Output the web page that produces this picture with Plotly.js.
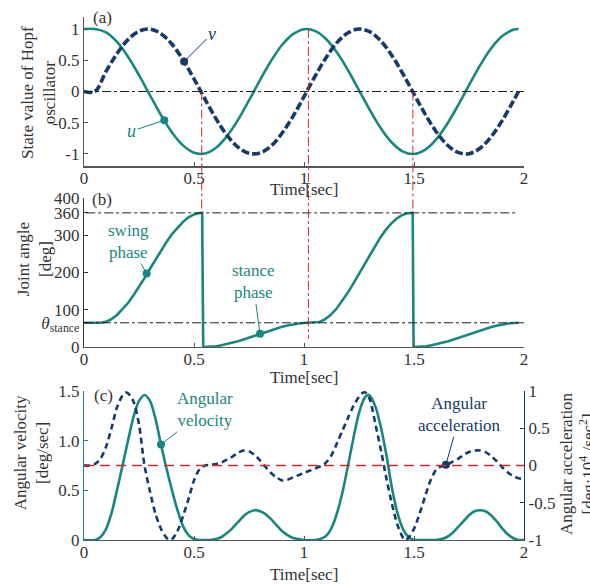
<!DOCTYPE html>
<html>
<head>
<meta charset="utf-8">
<script src="https://cdn.plot.ly/plotly-3.0.1.min.js"></script>
<style>
  html, body { margin: 0; padding: 0; background: #fff; }
  #chart { width: 590px; height: 584px; }
</style>
</head>
<body>
<div id="chart"></div>
<script>
// ---- (a) Hopf oscillator states ----
const tOsc = [0, 0.05, 0.1, 0.15, 0.2, 0.25, 0.3, 0.35, 0.4, 0.45, 0.5, 0.55, 0.6, 0.65, 0.7, 0.75, 0.8, 0.85, 0.9, 0.95, 1.0,
  1.05, 1.1, 1.15, 1.2, 1.25, 1.3, 1.35, 1.4, 1.45, 1.5, 1.55, 1.6, 1.65, 1.7, 1.75, 1.8, 1.85, 1.9, 1.95, 1.975];
const uState = [1, 1, 0.947, 0.794, 0.557, 0.262, -0.061, -0.378, -0.655, -0.862, -0.980, -0.993, -0.901, -0.714, -0.453, -0.142,
  0.183, 0.488, 0.744, 0.918, 0.997, 0.970, 0.841, 0.623, 0.340, 0.020, -0.301, -0.591, -0.820, -0.961, -0.999,
  -0.933, -0.769, -0.523, -0.222, 0.102, 0.416, 0.687, 0.883, 0.987, 1.0];
const vState = [0, 0, 0.321, 0.607, 0.830, 0.965, 0.998, 0.926, 0.756, 0.507, 0.203, -0.122, -0.434, -0.700, -0.891, -0.990,
  -0.983, -0.873, -0.668, -0.397, -0.081, 0.243, 0.540, 0.782, 0.940, 1.000, 0.954, 0.806, 0.574, 0.280, -0.041,
  -0.359, -0.639, -0.852, -0.975, -0.995, -0.909, -0.727, -0.470, -0.162, 0];
const uMark = { t: 0.365, val: -0.46 };
const vMark = { t: 0.455, val: 0.48 };

// ---- (b) joint angle ----
const tJoint = [0, 0.05, 0.075, 0.1, 0.125, 0.15, 0.175, 0.2, 0.225, 0.25, 0.275, 0.3, 0.325, 0.35, 0.375, 0.4, 0.425, 0.45,
  0.475, 0.5, 0.525, 0.537, 0.542, 0.575, 0.6, 0.625, 0.65, 0.675, 0.7, 0.725, 0.75, 0.775, 0.8, 0.825, 0.85, 0.875,
  0.9, 0.925, 0.95, 0.975, 1.0, 1.025, 1.045, 1.07, 1.095, 1.12, 1.145, 1.17, 1.195, 1.22, 1.245, 1.27, 1.295, 1.32, 1.345,
  1.37, 1.395, 1.42, 1.445, 1.47, 1.488, 1.494, 1.498, 1.53, 1.555, 1.58, 1.605, 1.63, 1.655, 1.68, 1.705, 1.73, 1.755,
  1.78, 1.805, 1.83, 1.855, 1.88, 1.905, 1.93, 1.955, 1.975];
const jointAngle = [65, 65, 65, 68, 75, 86, 101, 118, 139, 161, 185, 210, 235, 259, 282, 303, 321, 336,
  348, 356, 359.7, 360, 0, 0.7, 2.2, 4.5, 7.5, 11.2, 15.4, 20.1, 25.0, 30.2, 35.4, 40.6, 45.5, 50.1,
  54.3, 57.8, 60.8, 63.0, 64.4, 65, 65, 67.3, 74.3, 85.6, 101, 120, 142, 166, 191.5, 217.8, 243.9, 268.9, 292.2,
  313, 330.6, 344.2, 354, 359.2, 360, 360, 0, 0.7, 2.2, 4.5, 7.5, 11.2, 15.4, 20.1, 25.0,
  30.2, 35.4, 40.6, 45.5, 50.1, 54.3, 57.8, 60.8, 63.0, 64.4, 65];
const thetaStance = 65;
const swingMark = { t: 0.285, val: 197 };
const stanceMark = { t: 0.8, val: 35.4 };

// ---- (c) angular velocity and acceleration ----
const tVel = [0, 0.05, 0.075, 0.1, 0.125, 0.15, 0.175, 0.2, 0.225, 0.25, 0.275, 0.3, 0.325, 0.35, 0.375, 0.4, 0.425, 0.45,
  0.475, 0.5, 0.525, 0.55, 0.575, 0.6, 0.625, 0.65, 0.675, 0.7, 0.725, 0.75, 0.775, 0.8, 0.825, 0.85, 0.875, 0.9, 0.925,
  0.95, 0.975, 1.0, 1.05, 1.075, 1.1, 1.125, 1.15, 1.175, 1.2, 1.225, 1.25, 1.275, 1.29, 1.3, 1.325, 1.35, 1.375, 1.4,
  1.425, 1.45, 1.475, 1.5, 1.525, 1.6, 1.625, 1.65, 1.675, 1.7, 1.725, 1.75, 1.775, 1.8, 1.825, 1.85, 1.875, 1.9, 1.925,
  1.95, 1.975, 2.0];
const angVel = [0, 0, 0.03, 0.11, 0.27, 0.5, 0.75, 1.0, 1.24, 1.4, 1.46, 1.4, 1.22, 0.96, 0.72, 0.5, 0.3, 0.14,
  0.05, 0.01, 0, 0, 0, 0.01, 0.03, 0.07, 0.12, 0.18, 0.24, 0.28, 0.3, 0.29, 0.26, 0.21, 0.15, 0.09, 0.05,
  0.02, 0.01, 0, 0, 0.01, 0.04, 0.12, 0.27, 0.48, 0.75, 1.03, 1.28, 1.43, 1.46, 1.45, 1.34, 1.13, 0.85, 0.52,
  0.27, 0.11, 0.03, 0, 0, 0, 0.01, 0.03, 0.07, 0.13, 0.19, 0.25, 0.29, 0.3, 0.29, 0.25, 0.19, 0.12, 0.06,
  0.02, 0, 0];
const tAcc = [0, 0.025, 0.05, 0.075, 0.1, 0.125, 0.15, 0.175, 0.19, 0.2, 0.225, 0.25, 0.275, 0.3, 0.325, 0.35, 0.375, 0.39,
  0.4, 0.425, 0.45, 0.475, 0.5, 0.525, 0.55, 0.575, 0.6, 0.625, 0.65, 0.675, 0.7, 0.725, 0.75, 0.775, 0.8, 0.825,
  0.85, 0.875, 0.9, 0.925, 0.95, 0.975, 1.0, 1.025, 1.05, 1.075, 1.09, 1.1, 1.125, 1.15, 1.175, 1.2, 1.225, 1.25,
  1.27, 1.285, 1.3, 1.325, 1.35, 1.375, 1.4, 1.425, 1.45, 1.46, 1.475, 1.5, 1.525, 1.55, 1.575, 1.6, 1.625, 1.65,
  1.675, 1.7, 1.725, 1.75, 1.775, 1.8, 1.825, 1.85, 1.875, 1.9, 1.925, 1.95, 1.975, 2.0];
const angAcc = [0, 0, 0.02, 0.09, 0.25, 0.5, 0.78, 0.94, 0.98, 0.97, 0.86, 0.55, 0, -0.35, -0.65, -0.85, -0.97, -1.0,
  -0.99, -0.88, -0.68, -0.45, -0.2, -0.05, 0, 0.01, 0.02, 0.04, 0.08, 0.12, 0.17, 0.2, 0.19, 0.14, 0.07, -0.02,
  -0.1, -0.16, -0.2, -0.19, -0.16, -0.13, -0.1, -0.07, -0.04, -0.01, 0.01, 0.04, 0.14, 0.3, 0.47, 0.64, 0.8, 0.92,
  0.98, 0.97, 0.88, 0.55, 0.2, -0.18, -0.52, -0.8, -0.97, -1.0, -0.97, -0.85, -0.65, -0.42, -0.2, -0.06, -0.01, 0.01,
  0.05, 0.09, 0.14, 0.18, 0.2, 0.2, 0.18, 0.13, 0.06, -0.02, -0.09, -0.14, -0.17, -0.18];
const velMark = { t: 0.35, val: 0.96 };
const accMark = { t: 1.645, val: 0.01 };

// gait phase boundaries (sec)
const phaseLines = [
  { t: 0.535, fromA: 0, toB: 360 },
  { t: 1.02, fromA: 1, toB: 22 },
  { t: 1.495, fromA: 0, toB: 360 }
];

const xTicks = [0, 0.5, 1, 1.5, 2];
const xTickText = ['0', '0.5', '1', '1.5', '2'];
const aTicks = [-1, -0.5, 0, 0.5, 1];
const aTickText = ['-1', '-0.5', '0', '0.5', '1'];
const bTicks = [0, thetaStance, 100, 200, 300, 360, 400];
const bTickText = ['0', '<i>θ</i><sub>stance</sub>', '100', '200', '300', '360', '400'];
const cLeftTicks = [0, 0.5, 1, 1.5];
const cLeftText = ['0', '0.5', '1.0', '1.5'];
const cRightTicks = [-1, -0.5, 0, 0.5, 1];
const cRightText = ['-1', '-0.5', '0', '0.5', '1'];

// ---- styling ----
const TEAL = '#17877f';
const NAVY = '#153a6b';
const RED = '#d8262b';
const AXIS = '#555555';
const TXT = '#333333';
const SERIF = '"Liberation Serif", "Times New Roman", Times, serif';

const domA = [0.7128, 0.999], rangeA = [-1.2, 1.2];
const domB = [0.3683, 0.6527], rangeB = [0, 400];
const domC = [0, 0.2844];

function toPaper(dom, rng, v) {
  return dom[0] + (v - rng[0]) / (rng[1] - rng[0]) * (dom[1] - dom[0]);
}

const traces = [
  { x: tOsc, y: uState, xaxis: 'x', yaxis: 'y', mode: 'lines',
    line: { color: TEAL, width: 2.6, shape: 'spline', smoothing: 1 } },
  { x: tOsc, y: vState, xaxis: 'x', yaxis: 'y', mode: 'lines',
    line: { color: NAVY, width: 3.6, dash: '8px,3px', shape: 'spline', smoothing: 1 } },
  { x: [uMark.t], y: [uMark.val], xaxis: 'x', yaxis: 'y', mode: 'markers', marker: { color: TEAL, size: 8 } },
  { x: [vMark.t], y: [vMark.val], xaxis: 'x', yaxis: 'y', mode: 'markers', marker: { color: NAVY, size: 8 } },

  { x: tJoint, y: jointAngle, xaxis: 'x2', yaxis: 'y2', mode: 'lines',
    line: { color: TEAL, width: 2.6 } },
  { x: [swingMark.t, stanceMark.t], y: [swingMark.val, stanceMark.val], xaxis: 'x2', yaxis: 'y2',
    mode: 'markers', marker: { color: TEAL, size: 8 } },

  { x: tVel, y: angVel, xaxis: 'x3', yaxis: 'y3', mode: 'lines',
    line: { color: TEAL, width: 2.6, shape: 'spline', smoothing: 0.8 } },
  { x: tAcc, y: angAcc, xaxis: 'x3', yaxis: 'y4', mode: 'lines',
    line: { color: NAVY, width: 2.6, dash: '6px,4px', shape: 'spline', smoothing: 0.8 } },
  { x: [velMark.t], y: [velMark.val], xaxis: 'x3', yaxis: 'y3', mode: 'markers', marker: { color: TEAL, size: 8 } },
  { x: [accMark.t], y: [accMark.val], xaxis: 'x3', yaxis: 'y4', mode: 'markers', marker: { color: NAVY, size: 8 } }
];

const tickFont = { family: SERIF, size: 17, color: TXT };

function xAxis(anchor) {
  return {
    anchor: anchor, domain: [0, 1], range: [0, 2],
    tickvals: xTicks, ticktext: xTickText, ticks: 'inside', ticklen: 4, tickcolor: AXIS,
    showline: true, linecolor: AXIS, linewidth: 1.2, ticklabelstandoff: -4,
    showgrid: false, zeroline: false, tickfont: tickFont
  };
}

function yAxis(dom, rng, vals, text, color) {
  return {
    domain: dom, range: rng, anchor: 'x',
    tickvals: vals, ticktext: text, ticks: 'inside', ticklen: 4, tickcolor: color || AXIS,
    showline: true, linecolor: color || AXIS, linewidth: 1.2,
    showgrid: false, zeroline: false, tickfont: tickFont
  };
}

const yA = yAxis(domA, rangeA, aTicks, aTickText);
const yB = yAxis(domB, rangeB, bTicks, bTickText, '#333333'); yB.anchor = 'x2';
const yC = yAxis(domC, [0, 1.5], cLeftTicks, cLeftText, TEAL); yC.anchor = 'x3';
const yD = yAxis(domC, [-1, 1], cRightTicks, cRightText, NAVY);
yD.anchor = 'x3'; yD.overlaying = 'y3'; yD.side = 'right';

const dashDot = { color: '#222222', width: 1, dash: 'dashdot' };
const shapes = [
  { type: 'line', xref: 'x', yref: 'y', x0: 0, x1: 2, y0: 0, y1: 0, line: dashDot },
  { type: 'line', xref: 'x2', yref: 'y2', x0: 0.01, x1: 1.97, y0: 360, y1: 360, line: dashDot },
  { type: 'line', xref: 'x2', yref: 'y2', x0: 0, x1: 2, y0: thetaStance, y1: thetaStance, line: dashDot },
  { type: 'line', xref: 'x3', yref: 'y4', x0: 0, x1: 2, y0: 0, y1: 0,
    line: { color: RED, width: 1.5, dash: '10px,6px' } }
];
phaseLines.forEach(p => {
  shapes.push({ type: 'line', xref: 'x', yref: 'paper', x0: p.t, x1: p.t,
    y0: toPaper(domA, rangeA, p.fromA), y1: toPaper(domB, rangeB, p.toB),
    line: { color: RED, width: 1, dash: 'dashdot' } });
});

const labFont = { family: SERIF, size: 17, color: TXT };
function freeText(x, y, text, angle) {
  return { xref: 'paper', yref: 'paper', x: x, y: y, text: text, textangle: angle || 0,
    xanchor: 'center', yanchor: 'middle', showarrow: false, font: labFont };
}
function pointer(xr, yr, mark, ax, ay, text, color, size) {
  return { xref: xr, yref: yr, x: mark.t, y: mark.val, ax: ax, ay: ay, text: text,
    xanchor: 'center', yanchor: 'middle',
    showarrow: true, arrowhead: 0, arrowwidth: 1, arrowcolor: color, standoff: 0,
    font: { family: SERIF, size: size || 17, color: color } };
}

const annotations = [
  { xref: 'x', yref: 'y', x: 0.086, y: 1.19, text: '(a)', showarrow: false, font: labFont, xanchor: 'center', yanchor: 'middle' },
  { xref: 'x2', yref: 'y2', x: 0.082, y: 395, text: '(b)', showarrow: false, font: labFont, xanchor: 'center', yanchor: 'middle' },
  { xref: 'x3', yref: 'y3', x: 0.09, y: 1.45, text: '(c)', showarrow: false, font: labFont, xanchor: 'center', yanchor: 'middle' },

  freeText(-0.1023, 0.855, 'State value of Hopf<br>oscillator', -90),
  freeText(-0.1125, 0.535, 'Joint angle<br>[deg]', -90),
  freeText(-0.12, 0.166, 'Angular velocity<br>[deg/sec]', -90),
  freeText(1.1227, 0.147, 'Angular acceleration<br>[deg·10<sup>4</sup> /sec<sup>2</sup>]', -90),

  freeText(0.5, 0.668, 'Time[sec]'),
  freeText(0.5, 0.3105, 'Time[sec]'),
  freeText(0.5, -0.0649, 'Time[sec]'),

  pointer('x', 'y', vMark, 28, -28, '<i>v</i>', NAVY, 18),
  pointer('x', 'y', uMark, -33, 11, '<i>u</i>', TEAL, 18),
  pointer('x2', 'y2', swingMark, -18, -32, 'swing<br>phase', TEAL),
  pointer('x2', 'y2', stanceMark, -7, -52, 'stance<br>phase', TEAL),
  pointer('x3', 'y3', velMark, 44, -35, 'Angular<br>velocity', TEAL),
  pointer('x3', 'y4', accMark, 14, -50, 'Angular<br>acceleration', NAVY)
];

const layout = {
  width: 590, height: 584,
  margin: { l: 84, r: 66, t: 16, b: 44 },
  paper_bgcolor: '#ffffff', plot_bgcolor: '#ffffff',
  showlegend: false,
  font: { family: SERIF, size: 17, color: TXT },
  xaxis: xAxis('y'),
  yaxis: yA,
  xaxis2: xAxis('y2'),
  yaxis2: yB,
  xaxis3: xAxis('y3'),
  yaxis3: yC,
  yaxis4: yD,
  shapes: shapes,
  annotations: annotations
};

Plotly.newPlot('chart', traces, layout, { staticPlot: true, displayModeBar: false });
</script>
</body>
</html>
